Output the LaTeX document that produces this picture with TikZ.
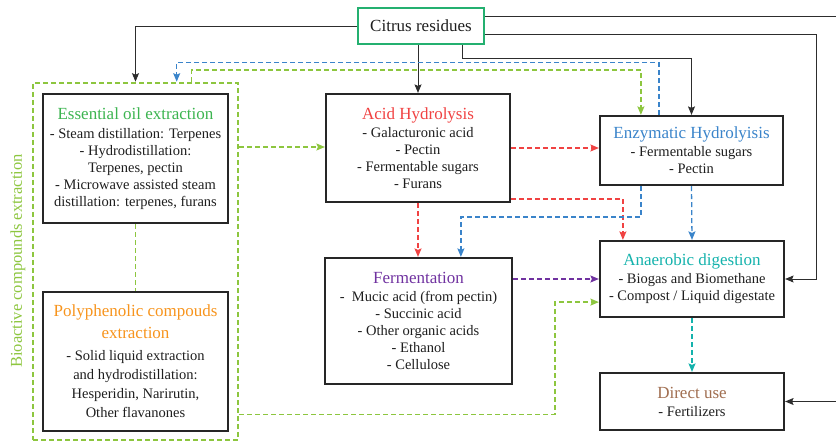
\documentclass[tikz,border=0pt]{standalone}
\usepackage{fontspec}
\setmainfont{Liberation Serif}
\usetikzlibrary{arrows.meta,calc}

\definecolor{txtcol}{RGB}{30,30,30}
\definecolor{linecol}{RGB}{45,45,45}
\definecolor{citrusgreen}{RGB}{36,176,112}
\definecolor{oilgreen}{RGB}{60,180,80}
\definecolor{acidred}{RGB}{240,66,66}
\definecolor{enzblue}{RGB}{58,132,202}
\definecolor{fermpurple}{RGB}{112,50,160}
\definecolor{polyorange}{RGB}{247,148,29}
\definecolor{adteal}{RGB}{20,178,172}
\definecolor{usebrown}{RGB}{160,110,80}
\definecolor{biogreen}{RGB}{141,198,63}

\newcommand{\boxtitle}[2]{{\fontsize{17}{17}\selectfont\color{#1}#2}}

\begin{document}
\begin{tikzpicture}[x=1pt,y=-1pt,
  procbox/.style={draw=black!85, line width=2.2pt, inner sep=0pt, align=center,
    text=txtcol, font=\fontsize{14.5}{17}\selectfont},
  tip/.style={-{Stealth[length=8.5pt,width=7pt,inset=1.5pt]}},
  conn/.style={draw=linecol, line width=0.9pt, tip},
  dconn/.style={draw=#1, line width=1.3pt, dash pattern=on 5pt off 3pt, tip},
  dlink/.style={draw=#1, line width=1.3pt, dash pattern=on 5pt off 3pt}]
\useasboundingbox (0,0) rectangle (836,441);

% group frame for bioactive compounds
\node[draw=biogreen, line width=2.6pt, dash pattern=on 5pt off 3pt,
      minimum width=205pt, minimum height=357pt, inner sep=0pt] (bio) at (135.5,261.5) {};
\node[rotate=90, text=biogreen, font=\fontsize{16.5}{17}\selectfont] (biolabel) at (18,261) {Bioactive compounds extraction};

% source
\node[draw=citrusgreen, line width=2.2pt, minimum width=126pt, minimum height=36pt,
      inner sep=0pt, text=txtcol, font=\fontsize{17}{17}\selectfont] (citrus) at (421,26) {Citrus residues};

% process boxes
\node[procbox, minimum width=185pt, minimum height=129pt] (ess) at (135.5,158.5)
  {\boxtitle{oilgreen}{Essential oil extraction}\\[2pt]
   - Steam distillation: Terpenes\\ - Hydrodistillation:\\ Terpenes, pectin\\
   - Microwave assisted steam\\ distillation: terpenes, furans};

\node[procbox, minimum width=185pt, minimum height=139pt, font=\fontsize{14.5}{19}\selectfont] (poly) at (135.5,361.5)
  {\boxtitle{polyorange}{Polyphenolic compouds}\\[3pt] \boxtitle{polyorange}{extraction}\\[3pt]
   - Solid liquid extraction\\ and hydrodistillation:\\ Hesperidin, Narirutin,\\ Other flavanones};

\node[procbox, minimum width=184pt, minimum height=108pt] (acid) at (418,148)
  {\boxtitle{acidred}{Acid Hydrolysis}\\[1pt]
   - Galacturonic acid\\ - Pectin\\ - Fermentable sugars\\ - Furans};

\node[procbox, minimum width=183pt, minimum height=69pt] (enz) at (691.5,150.5)
  {\boxtitle{enzblue}{Enzymatic Hydrolyisis}\\[1pt]
   - Fermentable sugars\\ - Pectin};

\node[procbox, minimum width=187pt, minimum height=126pt] (ferm) at (418.5,321)
  {\boxtitle{fermpurple}{Fermentation}\\[1pt]
   -\ \ Mucic acid (from pectin)\\ - Succinic acid\\ - Other organic acids\\ - Ethanol\\ - Cellulose};

\node[procbox, minimum width=184pt, minimum height=76pt] (anaer) at (692,279)
  {\boxtitle{adteal}{Anaerobic digestion}\\[1pt]
   - Biogas and Biomethane\\ - Compost / Liquid digestate};

\node[procbox, minimum width=184pt, minimum height=57pt] (direct) at (692,401.5)
  {\boxtitle{usebrown}{Direct use}\\[1pt] - Fertilizers};

% solid feed lines from the residues
\draw[conn] (citrus.west) -| (bio.north -| ess.north);
\draw[conn] (citrus.south -| acid.north) -- (acid.north);
\draw[conn] ($(citrus.south)+(41,0)$) -- ++(0,13) -| (enz.north);
\draw[conn] ($(citrus.east)+(0,8)$) -- (816,34) |- (anaer.east);
\draw[conn] ($(citrus.east)+(0,-10)$) -- (848,16) |- (direct.east);

% exchanges between the bioactive extraction and enzymatic hydrolysis
\draw[dconn=enzblue] ($(enz.north west)+(60,0)$) |- ($(bio.north west)+(145,-19)$) -- ($(bio.north west)+(145,0)$);
\draw[dconn=biogreen] ($(bio.north west)+(160,0)$) |- ($(enz.north west)+(42,-45)$) -- ($(enz.north west)+(42,0)$);

% dashed process flows
\draw[dconn=biogreen] (bio.east |- 0,147) -- (acid.west |- 0,147);
\draw[dlink=biogreen] (ess.south) -- (poly.north);
\draw[dconn=acidred] (acid.east) -- (acid.east -| enz.west);
\draw[dconn=acidred] (acid.south) -- (acid.south |- ferm.north);
\draw[dconn=acidred] ($(acid.south east)+(0,-4)$) -| ($(anaer.north west)+(24,0)$);
\draw[dconn=enzblue] ($(enz.south west)+(42,0)$) -- ++(0,31) -| ($(ferm.north west)+(137,0)$);
\draw[dconn=enzblue] (enz.south) -- (anaer.north);
\draw[dconn=fermpurple] (anaer.west -| ferm.east) -- (anaer.west);
\draw[dconn=biogreen] ($(bio.south east)+(0,-27)$) -| ($(anaer.south west)+(-44,-16)$) -- ($(anaer.south west)+(0,-16)$);
\draw[dconn=adteal] (anaer.south) -- (direct.north);
\end{tikzpicture}
\end{document}
